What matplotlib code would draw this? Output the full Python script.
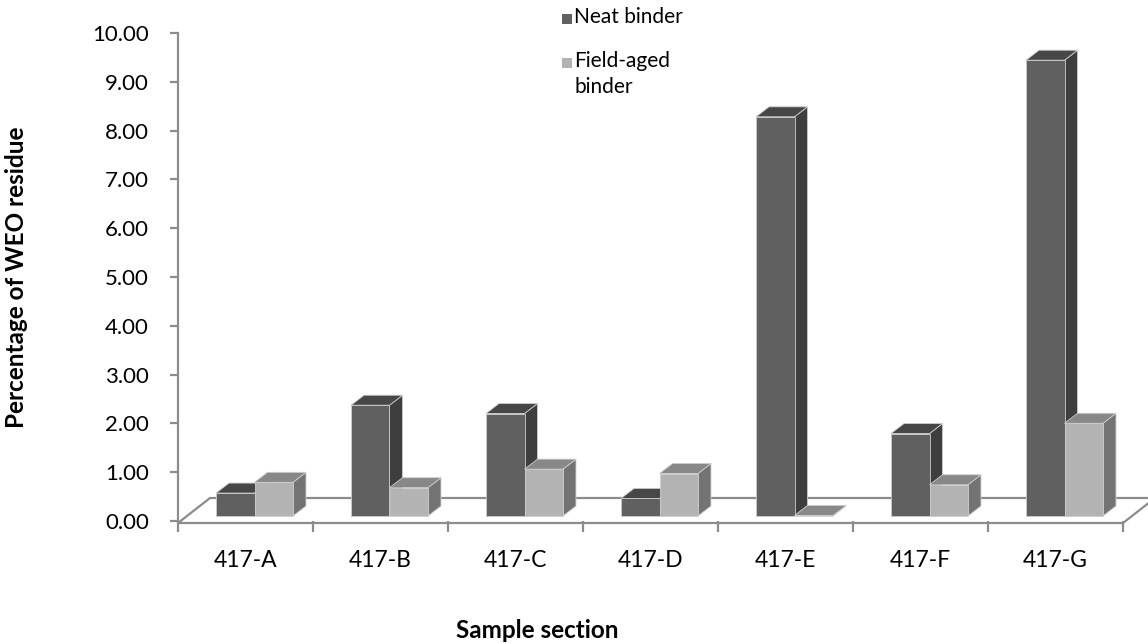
import matplotlib
matplotlib.use("Agg")
import matplotlib.pyplot as plt
from matplotlib.patches import Polygon, Rectangle

plt.rcParams['font.family'] = ['Lato', 'DejaVu Sans']

# percentage of WEO residue per sample section
sections = ["417-A", "417-B", "417-C", "417-D", "417-E", "417-F", "417-G"]
neat = [0.47, 2.27, 2.10, 0.36, 8.18, 1.69, 9.34]
field_aged = [0.69, 0.58, 0.96, 0.87, 0.01, 0.64, 1.90]
series_names = ["Neat binder", "Field-aged\nbinder"]
y_ticks = [0, 1, 2, 3, 4, 5, 6, 7, 8, 9, 10]

# colours for front / top / side faces of each series
neat_cols = ("#606060", "#474747", "#3e3e3e")
field_cols = ("#b3b3b3", "#888888", "#737373")

W, H = 1148, 644
fig = plt.figure(figsize=(W / 100, H / 100), dpi=100)
ax = fig.add_axes([178 / W, (H - 521) / H, 945 / W, 488 / H])
ax.set_xlim(0, len(sections))
ax.set_ylim(0, 10)

# one pixel in data units, used for the fake depth
px = len(sections) / 945
py = 10 / 488

grid_col = "#8c8c8c"

# floor of the 3d box
floor = Polygon([(0, -2 * py), (len(sections), -2 * py),
                 (len(sections) + 32 * px, 23 * py), (32 * px, 23 * py)],
                closed=True, facecolor="white", edgecolor=grid_col, lw=1.6,
                clip_on=False, zorder=1)
ax.add_patch(floor)

bw = 0.285          # bar width in category units
front_dx, back_dx = 9 * px, 22 * px
base = 5 * py
depth_dy = 10 * py


def draw_bar(x0, val, cols):
    front, top, side = cols
    x1 = x0 + bw
    t = base + val
    ec = "#cccccc"
    ax.add_patch(Polygon([(x1 + front_dx, base), (x1 + front_dx, t),
                          (x1 + back_dx, t + depth_dy), (x1 + back_dx, base + depth_dy)],
                         closed=True, facecolor=side, edgecolor=ec, lw=0.6,
                         clip_on=False, zorder=3))
    ax.add_patch(Polygon([(x0 + front_dx, t), (x1 + front_dx, t),
                          (x1 + back_dx, t + depth_dy), (x0 + back_dx, t + depth_dy)],
                         closed=True, facecolor=top, edgecolor=ec, lw=0.6,
                         clip_on=False, zorder=3))
    ax.bar(x0 + front_dx, val, width=bw, bottom=base, align="edge",
           color=front, edgecolor=ec, lw=0.6, clip_on=False, zorder=3)


for i in range(len(sections)):
    c = i + 0.5
    draw_bar(c - bw, neat[i], neat_cols)
    draw_bar(c, field_aged[i], field_cols)

# axes styling
for s in ["top", "right", "bottom"]:
    ax.spines[s].set_visible(False)
ax.spines["left"].set_color(grid_col)
ax.spines["left"].set_linewidth(1.6)
ax.spines["left"].set_bounds(0, 10)

ax.set_yticks(y_ticks)
ax.set_yticklabels(["{:.2f}".format(v) for v in y_ticks])
ax.tick_params(axis="y", length=6, width=1.6, color=grid_col, pad=15,
               labelsize=16, labelcolor="black")

# category ticks hang below the floor front edge
ax.set_xticks(range(len(sections) + 1))
ax.set_xticklabels([])
ax.set_xticks([i + 0.5 for i in range(len(sections))], minor=True)
ax.set_xticklabels(sections, minor=True)
ax.tick_params(axis="x", which="major", length=8, width=1.6, color=grid_col,
               direction="out")
ax.tick_params(axis="x", which="minor", length=0, pad=21, labelsize=16.5)

fig.text(17 / W, 1 - 277 / H, "Percentage of WEO residue", rotation=90,
         ha="center", va="center", fontsize=17.5, fontweight="bold")
fig.text(537 / W, 1 - 630 / H, "Sample section", ha="center", va="center",
         fontsize=17.5, fontweight="bold")

# legend
for (col, name, yc) in [(neat_cols[0], series_names[0], 19),
                        (field_cols[0], series_names[1], 63)]:
    fig.patches.append(Rectangle((562 / W, 1 - (yc + 5) / H), 10 / W, 10 / H,
                                 transform=fig.transFigure, facecolor=col,
                                 edgecolor="none"))
    fig.text(574 / W, 1 - (yc - 12) / H, name, ha="left", va="top",
             fontsize=15, linespacing=1.4)

fig.savefig("out.png", dpi=100)
